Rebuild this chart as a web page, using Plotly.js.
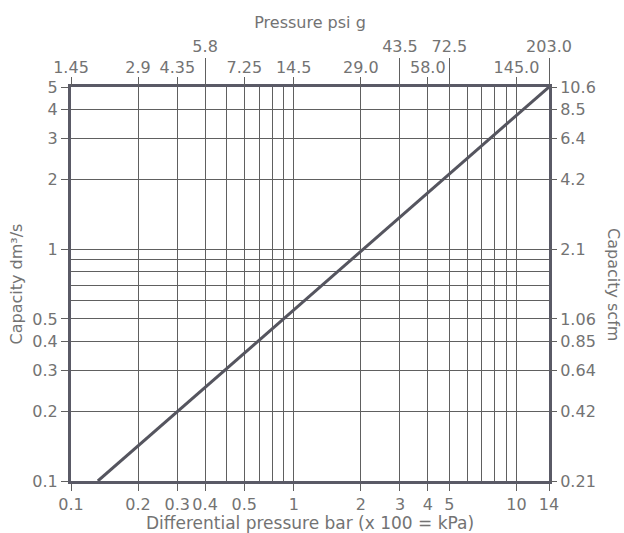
<!DOCTYPE html>
<html>
<head>
<meta charset="utf-8">
<script src="https://cdn.plot.ly/plotly-3.0.1.min.js"></script>
<style>
  html, body { margin: 0; padding: 0; background: #ffffff; }
  #chart { width: 624px; height: 533px; }
</style>
</head>
<body>
<div id="chart"></div>
<script>
// Line: differential pressure (bar) vs capacity (dm³/s)
const pressureBar = [0.132, 14];
const capacityDm3s = [0.1, 5];

// Bottom axis (bar) labels and extra grid positions
const barTickVals = [0.1, 0.2, 0.3, 0.4, 0.6, 1, 2, 3, 4, 5, 10, 14];
const barTickText = ['0.1', '0.2', '0.3', '0.4', '0.5', '1', '2', '3', '4', '5', '10', '14'];
const barGridVals = [0.5, 0.7, 0.8, 0.9, 6, 7, 8, 9];

// Top axis (psi g): lower row (short ticks) and upper row (long ticks), at bar positions
const psiLowBar = [0.1, 0.2, 0.3, 0.6, 1, 2, 4, 10];
const psiLowText = ['1.45', '2.9', '4.35', '7.25', '14.5', '29.0', '58.0', '145.0'];
const psiHighBar = [0.4, 3, 5, 14];
const psiHighText = ['5.8', '43.5', '72.5', '203.0'];

// Left axis (dm³/s) and right axis (scfm)
const capTickVals = [0.1, 0.2, 0.3, 0.4, 0.5, 1, 2, 3, 4, 5];
const capTickText = ['0.1', '0.2', '0.3', '0.4', '0.5', '1', '2', '3', '4', '5'];
const capGridVals = [0.6, 0.7, 0.8, 0.9];
const scfmTickText = ['0.21', '0.42', '0.64', '0.85', '1.06', '2.1', '4.2', '6.4', '8.5', '10.6'];

const FONT = 'DejaVu Sans, Liberation Sans, Arial, sans-serif';
const TXT = '#737373';
const FRAME = '#5a5a66';
const GRID = '#606060';
const xRange = [Math.log10(0.1), Math.log10(14)];
const yRange = [Math.log10(0.1), Math.log10(5)];

const data = [
  {
    type: 'scatter',
    mode: 'lines',
    x: pressureBar,
    y: capacityDm3s,
    line: { color: '#55555f', width: 3 },
    hoverinfo: 'x+y',
    showlegend: false
  },
  // carriers so that the psi (top) and scfm (right) axes are drawn; not visible
  {
    type: 'scatter', mode: 'lines', x: pressureBar, y: capacityDm3s,
    xaxis: 'x2', yaxis: 'y2',
    line: { color: 'rgba(0,0,0,0)', width: 0 }, hoverinfo: 'skip', showlegend: false
  },
  {
    type: 'scatter', mode: 'lines', x: pressureBar, y: capacityDm3s,
    xaxis: 'x3', yaxis: 'y',
    line: { color: 'rgba(0,0,0,0)', width: 0 }, hoverinfo: 'skip', showlegend: false
  }
];

const tickFont = { family: FONT, size: 16, color: TXT };

const layout = {
  width: 624,
  height: 533,
  margin: { l: 71, r: 75, t: 87, b: 52 },
  paper_bgcolor: '#ffffff',
  plot_bgcolor: '#ffffff',
  showlegend: false,
  font: { family: FONT, size: 16, color: TXT },
  xaxis: {
    type: 'log',
    range: xRange,
    tickmode: 'array',
    tickvals: barTickVals,
    ticktext: barTickText,
    ticks: 'outside',
    ticklen: 7,
    tickwidth: 1,
    tickcolor: GRID,
    tickfont: tickFont,
    showgrid: true,
    gridcolor: GRID,
    gridwidth: 1,
    minor: { tickmode: 'array', tickvals: barGridVals, showgrid: true, gridcolor: GRID, gridwidth: 1, ticks: '' },
    showline: true,
    linecolor: FRAME,
    linewidth: 3,
    mirror: true,
    zeroline: false,
    title: { text: 'Differential pressure bar (x 100 = kPa)', font: { family: FONT, size: 17, color: TXT }, standoff: 9 }
  },
  xaxis2: {
    type: 'log',
    overlaying: 'x',
    side: 'top',
    range: xRange,
    tickmode: 'array',
    tickvals: psiLowBar,
    ticktext: psiLowText,
    ticks: 'outside',
    ticklen: 9,
    tickwidth: 1,
    tickcolor: GRID,
    tickfont: tickFont,
    ticklabelstandoff: -2,
    showgrid: false,
    showline: false,
    zeroline: false
  },
  xaxis3: {
    type: 'log',
    overlaying: 'x',
    side: 'top',
    range: xRange,
    tickmode: 'array',
    tickvals: psiHighBar,
    ticktext: psiHighText,
    ticks: 'outside',
    ticklen: 28,
    tickwidth: 1,
    tickcolor: GRID,
    tickfont: tickFont,
    showgrid: false,
    showline: false,
    zeroline: false,
    title: { text: 'Pressure psi g', font: { family: FONT, size: 16, color: TXT }, standoff: 3 }
  },
  yaxis: {
    type: 'log',
    range: yRange,
    tickmode: 'array',
    tickvals: capTickVals,
    ticktext: capTickText,
    ticks: 'outside',
    ticklen: 7,
    tickwidth: 1,
    tickcolor: GRID,
    tickfont: tickFont,
    showgrid: true,
    gridcolor: GRID,
    gridwidth: 1,
    minor: { tickmode: 'array', tickvals: capGridVals, showgrid: true, gridcolor: GRID, gridwidth: 1, ticks: '' },
    showline: true,
    linecolor: FRAME,
    linewidth: 3,
    mirror: true,
    zeroline: false,
    title: { text: 'Capacity dm³/s', font: { family: FONT, size: 16, color: TXT }, standoff: 6 }
  },
  yaxis2: {
    type: 'log',
    overlaying: 'y',
    side: 'right',
    range: yRange,
    tickmode: 'array',
    tickvals: capTickVals,
    ticktext: scfmTickText,
    ticks: 'outside',
    ticklen: 7,
    tickwidth: 1,
    tickcolor: GRID,
    tickfont: tickFont,
    showgrid: false,
    showline: false,
    zeroline: false
  },
  annotations: [{
    text: 'Capacity scfm',
    textangle: 90,
    xref: 'paper', yref: 'paper',
    x: 1, y: 0.5,
    xanchor: 'center', yanchor: 'middle',
    xshift: 65,
    showarrow: false,
    font: { family: FONT, size: 16, color: TXT }
  }]
};

Plotly.newPlot('chart', data, layout, { staticPlot: true, displayModeBar: false });
</script>
</body>
</html>
